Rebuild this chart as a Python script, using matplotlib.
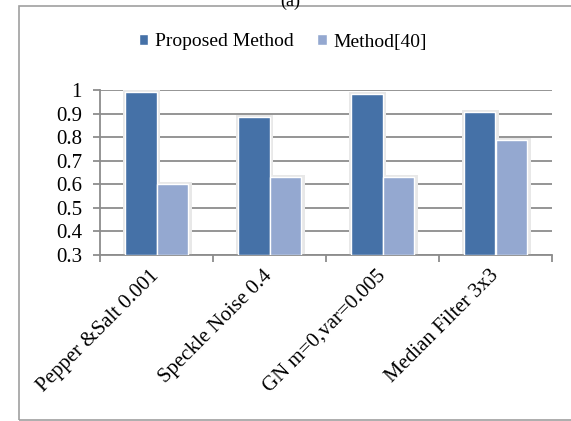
import matplotlib.pyplot as plt
import numpy as np
from matplotlib.patches import Rectangle

plt.rcParams["font.family"] = ["Liberation Serif", "DejaVu Serif"]

categories = ["Pepper &Salt 0.001", "Speckle Noise 0.4", "GN m=0,var=0.005", "Median Filter 3x3"]
proposed = [0.993, 0.884, 0.982, 0.908]
method40 = [0.600, 0.630, 0.632, 0.787]
yticks = [0.3, 0.4, 0.5, 0.6, 0.7, 0.8, 0.9, 1.0]
ytick_labels = ["0.3", "0.4", "0.5", "0.6", "0.7", "0.8", "0.9", "1"]

dark = "#4571A7"
light = "#94A8D0"
grid_col = "#8C8C8C"

fig = plt.figure(figsize=(5.71, 4.21), dpi=100)

# outer chart border (right side runs off the image)
fig.patches.append(Rectangle((19.5 / 571, 1 - 420 / 421), 1.2, (420 - 5.5) / 421,
                             transform=fig.transFigure, fill=False,
                             edgecolor="#A0A0A0", linewidth=1.2))
fig.text(290 / 571, 1 - 1 / 421, "(a)", ha="center", va="center", fontsize=13)

ax = fig.add_axes([100 / 571, 1 - 255 / 421, (552 - 100) / 571, (255 - 90) / 421])

x = np.arange(len(categories))
w = 0.283

# soft shadow behind bars
for off, vals in [(-w / 2, proposed), (w / 2, method40)]:
    ax.bar(x + off + 0.01, np.array(vals) - 0.3 + 0.008, w + 0.05, bottom=0.3,
           color="#E8E8E8", zorder=2, linewidth=0)

ax.bar(x - w / 2, np.array(proposed) - 0.3, w, bottom=0.3, color=dark,
       edgecolor="white", linewidth=1.0, zorder=3, label="Proposed Method")
ax.bar(x + w / 2, np.array(method40) - 0.3, w, bottom=0.3, color=light,
       edgecolor="white", linewidth=1.0, zorder=3, label="Method[40]")

ax.set_xlim(-0.5, len(categories) - 0.5)
ax.set_ylim(0.3, 1.0)
ax.set_yticks(yticks)
ax.set_yticklabels(ytick_labels, fontsize=15)
ax.yaxis.grid(True, color=grid_col, linewidth=1.3)
ax.set_axisbelow(True)

ax.set_xticks(x)
ax.set_xticklabels(categories, rotation=45, ha="right", va="center",
                   rotation_mode="anchor", fontsize=15)
ax.set_xticks(np.arange(len(categories) + 1) - 0.5, minor=True)
ax.tick_params(axis="x", which="major", length=0, pad=13)
ax.tick_params(axis="x", which="minor", length=5, color=grid_col, width=1.3)
ax.tick_params(axis="y", length=5, color=grid_col, width=1.3, pad=8)

for s in ["top", "right"]:
    ax.spines[s].set_visible(False)
for s in ["left", "bottom"]:
    ax.spines[s].set_color(grid_col)
    ax.spines[s].set_linewidth(1.3)

fig.legend(loc="center", bbox_to_anchor=(283 / 571, 1 - 42 / 421), ncol=2,
           frameon=False, fontsize=14, handlelength=0.5, handleheight=0.5,
           handletextpad=0.35, columnspacing=1.2)

fig.savefig("out.png", dpi=100)
